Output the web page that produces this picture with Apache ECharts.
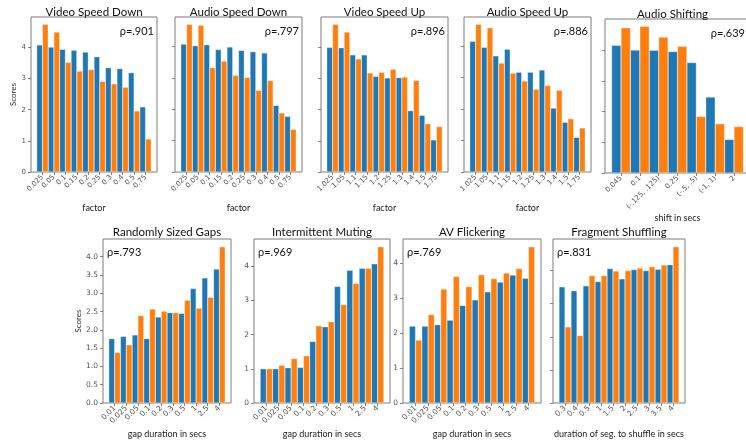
<!DOCTYPE html>
<html>
<head>
<meta charset="utf-8">
<script src="https://cdn.jsdelivr.net/npm/echarts@6/dist/echarts.min.js"></script>
<style>
  html, body { margin: 0; padding: 0; background: #fff; }
  #chart { width: 746px; height: 445px; }
</style>
</head>
<body>
<div id="chart"></div>
<script>
// ---- category labels ----
const speedDownFactors = ['0.025', '0.05', '0.1', '0.15', '0.2', '0.25', '0.3', '0.4', '0.5', '0.75'];
const speedUpFactors = ['1.025', '1.05', '1.1', '1.15', '1.2', '1.25', '1.3', '1.4', '1.5', '1.75'];
const shiftLabels = ['0.045', '0.1', '(-.125, .125)', '0.25', '(-.5, .5)', '(-1, 1)', '2'];
const gapLabels = ['0.01', '0.025', '0.05', '0.1', '0.2', '0.3', '0.5', '1', '2.5', '4'];
const shuffleLabels = ['0.3', '0.4', '0.5', '1', '1.5', '2', '2.5', '3', '3.5', '4'];

// ---- y tick labels ----
const wholeTicks = [0, 1, 2, 3, 4];
const halfTicks = [0, 0.5, 1, 1.5, 2, 2.5, 3, 3.5, 4];

// ---- scores (blue = A, orange = B) ----
const videoSpeedDownA = [4.08, 4.01, 3.94, 3.91, 3.85, 3.70, 3.35, 3.32, 3.19, 2.09];
const videoSpeedDownB = [4.74, 4.49, 3.52, 3.24, 3.29, 2.91, 2.83, 2.72, 1.96, 1.06];

const audioSpeedDownA = [4.07, 4.02, 4.05, 3.90, 3.98, 3.87, 3.83, 3.79, 2.12, 1.77];
const audioSpeedDownB = [4.70, 4.67, 3.32, 3.53, 3.08, 3.01, 2.60, 2.91, 1.88, 1.36];

const videoSpeedUpA = [4.00, 3.99, 3.76, 3.76, 3.07, 3.02, 3.03, 1.97, 1.82, 1.03];
const videoSpeedUpB = [4.74, 4.49, 3.63, 3.18, 3.20, 3.30, 3.05, 2.94, 1.55, 1.46];

const audioSpeedUpA = [4.15, 3.96, 3.69, 3.90, 3.17, 3.17, 3.24, 2.03, 1.58, 1.10];
const audioSpeedUpB = [4.69, 4.58, 3.46, 3.14, 2.89, 2.63, 2.75, 2.60, 1.69, 1.40];

const audioShiftA = [4.15, 4.00, 3.99, 3.95, 3.59, 2.47, 1.09];
const audioShiftB = [4.72, 4.77, 4.42, 4.12, 1.84, 1.60, 1.51];

const gapsA = [1.76, 1.82, 1.86, 1.76, 2.35, 2.47, 2.45, 3.13, 3.42, 3.66];
const gapsB = [1.38, 1.59, 2.39, 2.57, 2.51, 2.47, 2.81, 2.59, 2.89, 4.27];

const mutingA = [1.00, 1.00, 1.03, 1.04, 1.80, 2.23, 3.41, 3.88, 3.94, 4.07];
const mutingB = [1.00, 1.10, 1.30, 1.38, 2.26, 2.38, 2.88, 3.50, 3.94, 4.57];

const flickerA = [2.20, 2.20, 2.24, 2.37, 2.79, 2.95, 3.18, 3.46, 3.66, 3.57];
const flickerB = [1.80, 2.53, 3.26, 3.62, 3.33, 3.67, 3.56, 3.72, 3.85, 4.47];

const shuffleA = [3.51, 3.39, 3.54, 3.67, 4.06, 3.75, 4.03, 4.00, 4.04, 4.18];
const shuffleB = [2.30, 2.04, 3.85, 3.85, 3.99, 4.00, 4.08, 4.12, 4.17, 4.72];

// ---- panel texts ----
const titles = ['Video Speed Down', 'Audio Speed Down', 'Video Speed Up', 'Audio Speed Up', 'Audio Shifting',
                'Randomly Sized Gaps', 'Intermittent Muting', 'AV Flickering', 'Fragment Shuffling'];
const rhos = ['ρ=.901', 'ρ=.797', 'ρ=.896', 'ρ=.886', 'ρ=.639', 'ρ=.793', 'ρ=.969', 'ρ=.769', 'ρ=.831'];
const xNames = ['factor', 'factor', 'factor', 'factor', 'shift in secs',
                'gap duration in secs', 'gap duration in secs', 'gap duration in secs',
                'duration of seg. to shuffle in secs'];

const panels = [
  { cats: speedDownFactors, a: videoSpeedDownA, b: videoSpeedDownB, yTicks: wholeTicks },
  { cats: speedDownFactors, a: audioSpeedDownA, b: audioSpeedDownB, yTicks: wholeTicks },
  { cats: speedUpFactors,   a: videoSpeedUpA,   b: videoSpeedUpB,   yTicks: wholeTicks },
  { cats: speedUpFactors,   a: audioSpeedUpA,   b: audioSpeedUpB,   yTicks: wholeTicks },
  { cats: shiftLabels,      a: audioShiftA,     b: audioShiftB,     yTicks: wholeTicks },
  { cats: gapLabels,        a: gapsA,           b: gapsB,           yTicks: halfTicks },
  { cats: gapLabels,        a: mutingA,         b: mutingB,         yTicks: wholeTicks },
  { cats: gapLabels,        a: flickerA,        b: flickerB,        yTicks: wholeTicks },
  { cats: shuffleLabels,    a: shuffleA,        b: shuffleB,        yTicks: wholeTicks }
];

// ---- frame layout (px) ----
const frames = [
  { l: 31,  r: 157, t: 17,  b: 172, row: 0, yLabels: true,  yName: 'Scores' },
  { l: 175, r: 302, t: 17,  b: 172, row: 0, yLabels: false },
  { l: 321, r: 448, t: 17,  b: 172, row: 0, yLabels: false },
  { l: 464, r: 591, t: 17,  b: 172, row: 0, yLabels: false },
  { l: 605, r: 750, t: 19,  b: 173, row: 0, yLabels: false, rhoRight: 745 },
  { l: 103, r: 231, t: 239, b: 403, row: 1, yLabels: true,  yName: 'Scores', decimals: 1 },
  { l: 254, r: 390, t: 239, b: 403, row: 1, yLabels: true },
  { l: 403, r: 541, t: 239, b: 403, row: 1, yLabels: true },
  { l: 553, r: 685, t: 239, b: 403, row: 1, yLabels: false }
];

const rowStyle = [
  { xFont: 7, yFont: 7, xNameGap: 32, shiftNameGap: 33, yNameGap: 13, titleDy: -5, rhoDy: 14 },
  { xFont: 7.5, yFont: 7.5, xNameGap: 27, yNameGap: 20, titleDy: -7, rhoDy: 13 }
];

const BLUE = '#1f77b4';
const ORANGE = '#ff7f0e';
const TEXT_FONT = 'Lato, "Open Sans", sans-serif';
const TICK_FONT = '"DejaVu Sans", sans-serif';

const grid = [], xAxis = [], yAxis = [], series = [], graphic = [];

panels.forEach((p, i) => {
  const f = frames[i];
  const rs = rowStyle[f.row];
  const n = p.cats.length;
  const idx = p.cats.map((_, k) => k);
  const pad = 0.05 * n;                       // 5% side margins around the bar span
  const unitPx = (f.r - f.l) / (n + 2 * pad); // pixels per category step

  grid.push({
    left: f.l, top: f.t, width: f.r - f.l, height: f.b - f.t,
    containLabel: false, outerBoundsMode: 'none',
    show: true, borderColor: '#7c7c7c', borderWidth: 1, backgroundColor: 'transparent'
  });

  xAxis.push({
    type: 'value', gridIndex: i, position: 'bottom',
    min: -0.5 - pad, max: n - 0.5 + pad,
    axisLine: { show: false, onZero: false },
    splitLine: { show: false },
    axisTick: { show: true, customValues: idx, length: 3, lineStyle: { color: '#666', width: 0.8 } },
    axisLabel: {
      customValues: idx, rotate: 45, margin: 4,
      fontSize: rs.xFont, fontFamily: TICK_FONT, color: '#555',
      formatter: v => p.cats[Math.round(v)]
    },
    name: xNames[i], nameLocation: 'middle',
    nameGap: i === 4 ? rs.shiftNameGap : rs.xNameGap,
    nameTextStyle: { fontSize: 9, fontFamily: TEXT_FONT, color: '#222' }
  });

  yAxis.push({
    type: 'value', gridIndex: i, position: 'left', offset: 0,
    min: 0, max: e => e.max * 1.05,
    axisLine: { show: false, onZero: false },
    splitLine: { show: false },
    axisTick: { show: true, inside: false, customValues: p.yTicks, length: 3, lineStyle: { color: '#666', width: 0.8 } },
    axisLabel: {
      show: f.yLabels, inside: false, customValues: p.yTicks, margin: 5,
      fontSize: rs.yFont, fontFamily: TICK_FONT, color: '#555',
      formatter: v => f.decimals ? v.toFixed(f.decimals) : String(v)
    },
    name: f.yName || '', nameLocation: 'middle', nameRotate: 90, nameGap: rs.yNameGap,
    nameTextStyle: { fontSize: 8, fontFamily: TEXT_FONT, color: '#333' }
  });

  [[p.a, BLUE], [p.b, ORANGE]].forEach(([vals, color]) => {
    series.push({
      type: 'bar', xAxisIndex: i, yAxisIndex: i,
      data: vals.map((v, k) => [k, v]),
      barWidth: unitPx / 2, barGap: '0%',
      itemStyle: { color, borderColor: 'rgba(255,255,255,0.8)', borderWidth: 0.4 },
      silent: true, animation: false
    });
  });

  // panel title
  graphic.push({
    type: 'text', x: (f.l + Math.min(f.r, 746)) / 2 + (i === 4 ? -3 : 0), y: f.t + rs.titleDy,
    style: {
      text: titles[i], fontSize: 11.5, fontFamily: TEXT_FONT, fill: '#111',
      align: 'center', verticalAlign: 'middle', textAlign: 'center', textVerticalAlign: 'middle'
    }
  });

  // correlation annotation
  const rhoTopRow = f.row === 0;
  graphic.push({
    type: 'text',
    x: rhoTopRow ? (f.rhoRight || f.r - 3) : f.l + 4,
    y: f.t + rs.rhoDy,
    style: {
      text: rhos[i], fontSize: 11, fontFamily: TEXT_FONT, fill: '#111',
      align: rhoTopRow ? 'right' : 'left', verticalAlign: 'middle',
      textAlign: rhoTopRow ? 'right' : 'left', textVerticalAlign: 'middle'
    }
  });
});

const chart = echarts.init(document.getElementById('chart'), null, { renderer: 'canvas' });
chart.setOption({
  animation: false,
  backgroundColor: '#fff',
  grid, xAxis, yAxis, series, graphic
});
</script>
</body>
</html>
